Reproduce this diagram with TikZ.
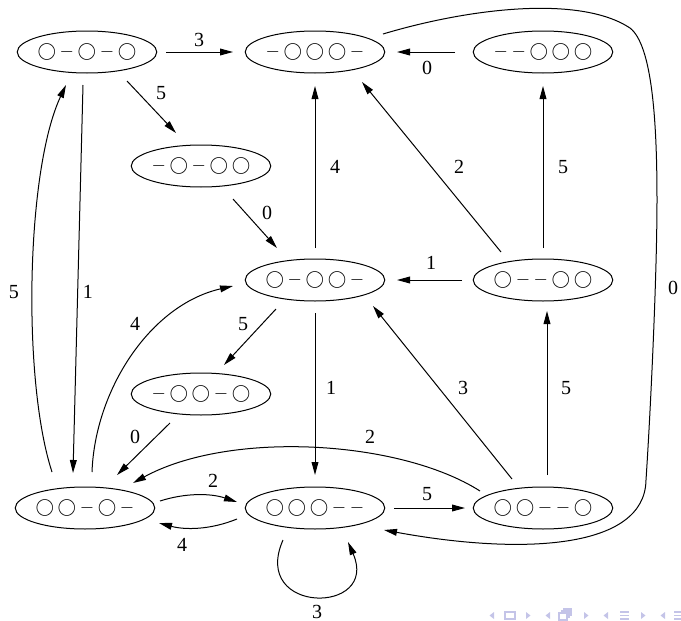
\documentclass[tikz,border=0pt]{standalone}
\usepackage{fontspec}
\setmainfont{Liberation Serif}
\usetikzlibrary{arrows.meta,calc,shapes.geometric}
\definecolor{navc}{RGB}{196,196,232}
\newcommand{\bl}{\mathord{\bigcirc}}
\newcommand{\gp}{\mathord{-}}
\newcommand{\sk}{\kern1.8pt}
\begin{document}
\begin{tikzpicture}[x=0.5pt,y=-0.5pt,
  state/.style={ellipse,draw,line width=0.5pt,minimum width=67pt,minimum height=21pt,inner sep=0pt,font=\fontsize{9.5}{11}\selectfont},
  edge/.style={line width=0.5pt,-{Triangle[length=6.5pt,width=3.4pt]}},
  lbl/.style={font=\fontsize{10}{12}\selectfont,inner sep=0pt},
  navtri/.style={fill=navc,draw=none},
  navline/.style={draw=navc,line width=0.6pt}
]
\useasboundingbox (0,0) rectangle (681,621);

% states
\node[state] (A) at (87,52)  {$\bl\sk\gp\sk\bl\sk\gp\sk\bl$};
\node[state] (B) at (315,52) {$\gp\sk\bl\sk\bl\sk\bl\sk\gp$};
\node[state] (C) at (543,52) {$\gp\sk\gp\sk\bl\sk\bl\sk\bl$};
\node[state] (D) at (201,166) {$\gp\sk\bl\sk\gp\sk\bl\sk\bl$};
\node[state] (E) at (315,280) {$\bl\sk\gp\sk\bl\sk\bl\sk\gp$};
\node[state] (F) at (543,280) {$\bl\sk\gp\sk\gp\sk\bl\sk\bl$};
\node[state] (G) at (201,394) {$\gp\sk\bl\sk\bl\sk\gp\sk\bl$};
\node[state] (H) at (85,508)  {$\bl\sk\bl\sk\gp\sk\bl\sk\gp$};
\node[state] (I) at (315,508) {$\bl\sk\bl\sk\bl\sk\gp\sk\gp$};
\node[state] (J) at (543,508) {$\bl\sk\bl\sk\gp\sk\gp\sk\bl$};

% transitions
\draw[edge] ($(A)+(79,0)$) -- ($(B)+(-82,0)$) node[lbl,at={(199,40)}] {3};
\draw[edge] ($(C)+(-88,0)$) -- ($(B)+(82,0)$) node[lbl,at={(427,68)}] {0};
\draw[edge] ($(A)+(40,29)$) -- ($(D)+(-25,-33)$) node[lbl,at={(161,93)}] {5};
\draw[edge] ($(D)+(32,33)$) -- ($(E)+(-38,-32)$) node[lbl,at={(267,213)}] {0};
\draw[edge] ($(E)+(0,-32)$) -- ($(B)+(0,34)$) node[lbl,at={(335,167)}] {4};
\draw[edge] ($(F)+(-42,-28)$) -- ($(B)+(47,30)$) node[lbl,at={(459,167)}] {2};
\draw[edge] ($(F)+(0,-32)$) -- ($(C)+(0,34)$) node[lbl,at={(563,167)}] {5};
\draw[edge] ($(F)+(-81,0)$) -- ($(E)+(82,0)$) node[lbl,at={(431,263)}] {1};
\draw[edge] ($(E)+(-39,29)$) -- ($(G)+(23,-29)$) node[lbl,at={(243,324)}] {5};
\draw[edge] ($(G)+(-31,29)$) -- ($(H)+(32,-33)$) node[lbl,at={(135,437)}] {0};
\draw[edge] ($(E)+(0,33)$) -- ($(I)+(0,-33)$) node[lbl,at={(331,388)}] {1};
\draw[edge] ($(J)+(-31,-29)$) -- ($(E)+(58,26)$) node[lbl,at={(463,388)}] {3};
\draw[edge] ($(J)+(4,-33)$) -- ($(F)+(4,31)$) node[lbl,at={(566,388)}] {5};
\draw[edge] ($(J)+(-63,-17)$) .. controls (400,440) and (230,430) .. ($(H)+(48,-25)$) node[lbl,at={(370,437)}] {2};
\draw[edge] ($(H)+(75,-7)$) .. controls (185,493) and (210,493) .. ($(I)+(-78,-6)$) node[lbl,at={(213,481)}] {2};
\draw[edge] ($(I)+(-78,11)$) .. controls (210,530) and (185,530) .. ($(H)+(74,15)$) node[lbl,at={(182,545)}] {4};
\draw[edge] ($(I)+(79,0)$) -- ($(J)+(-78,0)$) node[lbl,at={(427,494)}] {5};
\draw[edge] ($(I)+(-32,32)$) .. controls (250,615) and (380,615) .. ($(I)+(33,34)$) node[lbl,at={(317,612)}] {3};
\draw[edge] ($(B)+(68,-18)$) .. controls (470,8) and (580,-5) .. (630,28)
   .. controls (652,45) and (657,120) .. (657,200)
   .. controls (657,280) and (650,420) .. (646,480)
   .. controls (645,550) and (520,555) .. ($(I)+(69,22)$) node[lbl,at={(673,288)}] {0};
\draw[edge] ($(A)+(-4,33)$) -- ($(H)+(-12,-35)$) node[lbl,at={(88,292)}] {1};
\draw[edge] ($(H)+(-33,-36)$) .. controls (22,380) and (26,170) .. ($(A)+(-21,33)$) node[lbl,at={(14,292)}] {5};
\draw[edge] ($(H)+(7,-36)$) .. controls (95,390) and (150,305) .. ($(E)+(-82,6)$) node[lbl,at={(135,324)}] {4};

% navigation symbols
\fill[navtri] (494,612) -- (494,619) -- (489.5,615.5) -- cycle;
\draw[navline] (505,612) rectangle (515,619);
\fill[navtri] (526,612) -- (526,619) -- (530.5,615.5) -- cycle;
\fill[navtri] (550,612) -- (550,619) -- (545.5,615.5) -- cycle;
\draw[navline] (559,613) rectangle (567,620);
\draw[navline] (561,611) -- (569,611) -- (569,618);
\draw[navline] (563,609) -- (571,609) -- (571,616);
\fill[navtri] (584,612) -- (584,619) -- (588.5,615.5) -- cycle;
\fill[navtri] (608,612) -- (608,619) -- (603.5,615.5) -- cycle;
\draw[navline] (620,612) -- (629,612) (620,615.5) -- (629,615.5) (620,619) -- (629,619);
\fill[navtri] (641,612) -- (641,619) -- (645.5,615.5) -- cycle;
\fill[navtri] (665,612) -- (665,619) -- (660.5,615.5) -- cycle;
\draw[navline] (674,612) -- (683,612) (674,615.5) -- (683,615.5) (674,619) -- (683,619);
\end{tikzpicture}
\end{document}
